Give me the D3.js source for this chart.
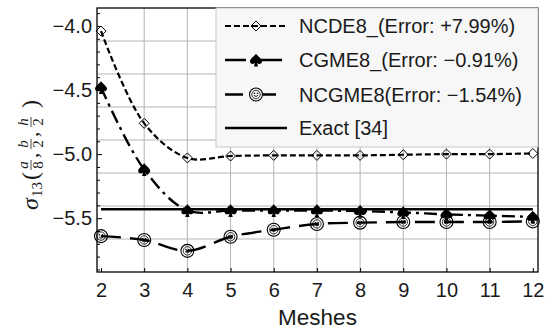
<!DOCTYPE html>
<html lang='en'>
<head>
<meta charset='utf-8'>
<title>Meshes</title>
<script src='https://cdn.jsdelivr.net/npm/d3@7'></script>
<style>
  body { margin: 0; background: #fff; }
  svg text { font-family: 'Liberation Sans', Arial, sans-serif; fill: #1a1a1a; }
  g.grid line { stroke: #b4b4b4; stroke-width: 1; }
  g.axis path { display: none; }
  g.axis line { stroke: #000; stroke-width: 1; }
  .series { fill: none; stroke: #000; }
  .ylab text { font-family: 'Liberation Serif', 'DejaVu Serif', serif; }
</style>
</head>
<body>
<script>
var width = 552, height = 333;

// data
var meshes = [2, 3, 4, 5, 6, 7, 8, 9, 10, 11, 12];
var ncde8  = [-4.04, -4.76, -5.03, -5.015, -5.01, -5.01, -5.01, -5.005, -5.0, -5.0, -4.995];
var cgme8  = [-4.48, -5.12, -5.44, -5.44, -5.44, -5.44, -5.445, -5.455, -5.47, -5.48, -5.49];
var ncgme8 = [-5.64, -5.67, -5.755, -5.645, -5.59, -5.545, -5.535, -5.53, -5.53, -5.53, -5.525];
var exact  = [-5.43, -5.43, -5.43, -5.43, -5.43, -5.43, -5.43, -5.43, -5.43, -5.43, -5.43];

var seriesNames = ['NCDE8_(Error: +7.99%)', 'CGME8_(Error: \u22120.91%)', 'NCGME8(Error: \u22121.54%)', 'Exact [34]'];
var xTicks = [2, 3, 4, 5, 6, 7, 8, 9, 10, 11, 12];
var xGrid = [3, 4, 5, 6, 7, 8, 9, 10, 11];
var yTicks = [-4.0, -4.5, -5.0, -5.5];
var yMinor = [-3.9, -4.1, -4.2, -4.3, -4.4, -4.6, -4.7, -4.8, -4.9, -5.1, -5.2, -5.3, -5.4, -5.6, -5.7, -5.8, -5.9];
var yGrid = [-4.1175, -4.375, -4.6325, -4.89, -5.1475, -5.405, -5.6625];

var plot = {left: 97, right: 538, top: 8, bottom: 272};

var x = d3.scaleLinear().domain([1.907, 12.12]).range([plot.left, plot.right]);
var y = d3.scaleLinear().domain([-5.92, -3.86]).range([plot.bottom, plot.top]);

var svg = d3.select('body').append('svg')
  .attr('width', width)
  .attr('height', height);

// grid
var grid = svg.append('g').attr('class', 'grid');
grid.selectAll('line.v').data(xGrid).enter().append('line')
  .attr('x1', function(d) { return x(d); }).attr('x2', function(d) { return x(d); })
  .attr('y1', plot.top).attr('y2', plot.bottom);
grid.selectAll('line.h').data(yGrid).enter().append('line')
  .attr('y1', function(d) { return y(d); }).attr('y2', function(d) { return y(d); })
  .attr('x1', plot.left).attr('x2', plot.right);

// axes
var xAxis = svg.append('g').attr('class', 'axis')
  .attr('transform', 'translate(0,' + plot.bottom + ')')
  .call(d3.axisBottom(x).tickValues(xTicks).tickSize(-4).tickPadding(11).tickFormat(d3.format('d')));
xAxis.selectAll('text').style('font-size', '20px');

var yAxis = svg.append('g').attr('class', 'axis')
  .attr('transform', 'translate(' + plot.left + ',0)')
  .call(d3.axisLeft(y).tickValues(yTicks).tickSize(-5).tickPadding(5).tickFormat(d3.format('.1f')));
yAxis.selectAll('text').style('font-size', '20px');

svg.append('g').attr('class', 'axis')
  .attr('transform', 'translate(' + plot.left + ',0)')
  .call(d3.axisLeft(y).tickValues(yMinor).tickSize(-3).tickFormat(''));

// frame
svg.append('rect')
  .attr('x', plot.left).attr('y', plot.top)
  .attr('width', plot.right - plot.left).attr('height', plot.bottom - plot.top)
  .attr('fill', 'none').attr('stroke', '#000').attr('stroke-width', 1.3);

// markers
var spadePath = 'M0,-6.5 C-1,-4 -6,-1.8 -6,1.4 C-6,4 -3,4.6 -1,3 L-2.2,6.5 L2.2,6.5 L1,3 C3,4.6 6,4 6,1.4 C6,-1.8 1,-4 0,-6.5 Z';
var diamondPath = 'M0,-5 L5,0 L0,5 L-5,0 Z';

function drawDiamond(g) {
  g.append('path').attr('d', diamondPath)
    .attr('fill', 'none').attr('stroke', '#000').attr('stroke-width', 1);
}
function drawSpade(g) {
  g.append('path').attr('d', spadePath).attr('fill', '#000');
}
function drawSmiley(g) {
  g.append('circle').attr('r', 6.5).attr('fill', 'none').attr('stroke', '#000').attr('stroke-width', 1.1);
  g.append('circle').attr('r', 4.2).attr('fill', 'none').attr('stroke', '#000').attr('stroke-width', 0.8);
  g.append('circle').attr('cx', -1.5).attr('cy', -1.2).attr('r', 0.8).attr('fill', '#000');
  g.append('circle').attr('cx', 1.5).attr('cy', -1.2).attr('r', 0.8).attr('fill', '#000');
  g.append('path').attr('d', 'M-2.2,0.8 Q0,3.2 2.2,0.8')
    .attr('fill', 'none').attr('stroke', '#000').attr('stroke-width', 0.9);
}

var series = [
  {name: seriesNames[0], values: ncde8, dash: '6,3', width: 2.2, marker: drawDiamond, legendDash: '6,3'},
  {name: seriesNames[1], values: cgme8, dash: '13,5,3,5', width: 2.4, marker: drawSpade, legendDash: '21,10,30'},
  {name: seriesNames[2], values: ncgme8, dash: '20,9', width: 2.4, marker: drawSmiley, legendDash: '18,20,20'},
  {name: seriesNames[3], values: exact, dash: null, width: 2.4, marker: null, legendDash: null}
];

var line = d3.line()
  .x(function(d) { return x(d[0]); })
  .y(function(d) { return y(d[1]); })
  .curve(d3.curveCatmullRom.alpha(0.5));

series.forEach(function(s) {
  var pts = meshes.map(function(m, i) { return [m, s.values[i]]; });
  var p = svg.append('path').attr('class', 'series')
    .attr('d', s.marker ? line(pts) : d3.line()(pts.map(function(d) { return [x(d[0]), y(d[1])]; })))
    .attr('stroke-width', s.width);
  if (s.dash) p.attr('stroke-dasharray', s.dash);
});

series.forEach(function(s) {
  if (!s.marker) return;
  meshes.forEach(function(m, i) {
    var g = svg.append('g').attr('transform', 'translate(' + x(m) + ',' + y(s.values[i]) + ')');
    s.marker(g);
  });
});

// legend
var legend = svg.append('g');
legend.append('rect')
  .attr('x', 216).attr('y', 8).attr('width', 322).attr('height', 139)
  .attr('fill', '#f7f7f7').attr('stroke', '#c8c8c8').attr('stroke-width', 1);
var rowY = [26, 60, 94.5, 128];
series.forEach(function(s, i) {
  var ly = rowY[i];
  var l = legend.append('line')
    .attr('x1', 225).attr('x2', s.name === seriesNames[2] ? 276 : (s.name === seriesNames[1] ? 282 : 287))
    .attr('y1', ly).attr('y2', ly)
    .attr('stroke', '#000').attr('stroke-width', s.width);
  if (s.legendDash) l.attr('stroke-dasharray', s.legendDash);
  if (s.marker) s.marker(legend.append('g').attr('transform', 'translate(256,' + ly + ')'));
  legend.append('text')
    .attr('x', 299).attr('y', ly + 7)
    .style('font-size', '20px')
    .text(s.name);
});

// x label
svg.append('text')
  .attr('x', (plot.left + plot.right) / 2).attr('y', 325)
  .attr('text-anchor', 'middle')
  .style('font-size', '22.5px')
  .text('Meshes');

// y label: sigma_13(a/8, b/2, h/2), rotated
var yl = svg.append('g').attr('class', 'ylab')
  .attr('transform', 'translate(38,210) rotate(-90)');
yl.append('text').attr('x', 0).attr('y', 0).style('font-size', '24px').style('font-style', 'italic').text('\u03c3');
yl.append('text').attr('x', 13).attr('y', 4).style('font-size', '15px').text('13');
yl.append('text').attr('x', 30).attr('y', 0).style('font-size', '24px').text('(');

function frac(cx, num, den) {
  yl.append('text').attr('x', cx).attr('y', -10).attr('text-anchor', 'middle')
    .style('font-size', '15px').style('font-style', 'italic').text(num);
  yl.append('line').attr('x1', cx - 5).attr('x2', cx + 5).attr('y1', -7).attr('y2', -7)
    .attr('stroke', '#1a1a1a').attr('stroke-width', 0.8);
  yl.append('text').attr('x', cx).attr('y', 5).attr('text-anchor', 'middle')
    .style('font-size', '15px').text(den);
}
frac(45, 'a', '8');
yl.append('text').attr('x', 52).attr('y', 0).style('font-size', '21px').text(',');
frac(66, 'b', '2');
yl.append('text').attr('x', 73).attr('y', 0).style('font-size', '21px').text(',');
frac(88, 'h', '2');
yl.append('text').attr('x', 102).attr('y', 0).style('font-size', '24px').text(')');
</script>
</body>
</html>
